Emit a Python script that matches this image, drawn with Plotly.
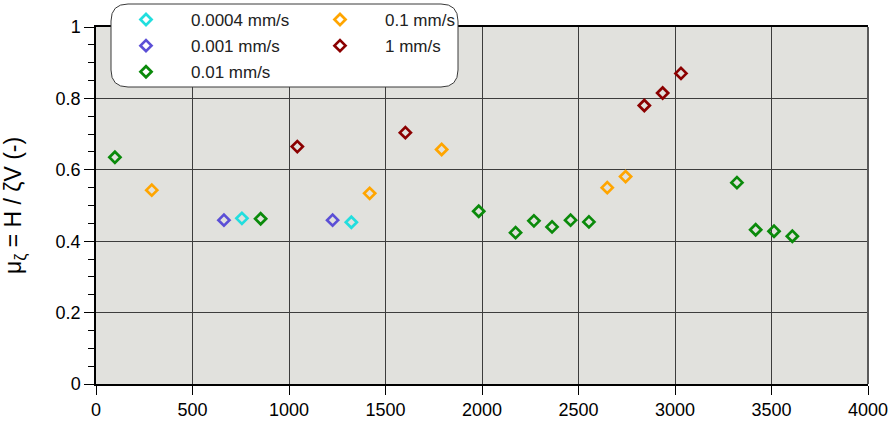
import plotly.graph_objects as go

# Data
names = ["0.0004 mm/s", "0.001 mm/s", "0.01 mm/s", "0.1 mm/s", "1 mm/s"]
colors = ["#22dede", "#5b4fd6", "#0a8a0a", "#ffa500", "#8b0000"]

x_00004 = [756, 1323]
y_00004 = [0.464, 0.453]

x_0001 = [663, 1226]
y_0001 = [0.459, 0.459]

x_001 = [98, 853, 1983, 2174, 2269, 2363, 2459, 2554, 3321, 3418, 3513, 3608]
y_001 = [0.635, 0.463, 0.484, 0.424, 0.457, 0.440, 0.459, 0.454, 0.564, 0.432, 0.428, 0.414]

x_01 = [289, 1418, 1791, 2649, 2744]
y_01 = [0.543, 0.534, 0.657, 0.550, 0.581]

x_1 = [1043, 1603, 2841, 2936, 3031]
y_1 = [0.665, 0.704, 0.780, 0.815, 0.870]

xs = [x_00004, x_0001, x_001, x_01, x_1]
ys = [y_00004, y_0001, y_001, y_01, y_1]

x_ticks = [0, 500, 1000, 1500, 2000, 2500, 3000, 3500, 4000]
y_ticks = [0, 0.2, 0.4, 0.6, 0.8, 1]

FONT = "Liberation Sans, Arial, sans-serif"

fig = go.Figure()
for i, (n, c, xx, yy) in enumerate(zip(names, colors, xs, ys)):
    fig.add_trace(go.Scatter(
        x=xx, y=yy, mode="markers", name=n,
        legend="legend" if i < 3 else "legend2",
        legendgroup=n,
        marker=dict(symbol="diamond-open", size=8.5, color=c,
                    line=dict(width=2.7, color=c)),
    ))

W, H = 890, 425
L, R, T, B = 96, 22, 27, 41
pw, ph = W - L - R, H - T - B


def px2paper(px, py):
    return (px - L) / pw, (H - B - py) / ph


# rounded legend box
x0, y0 = px2paper(111, 87)
x1, y1 = px2paper(458, 4)
rx, ry = 17 / pw, 17 / ph
path = (f"M {x0+rx},{y1} L {x1-rx},{y1} Q {x1},{y1} {x1},{y1-ry} "
        f"L {x1},{y0+ry} Q {x1},{y0} {x1-rx},{y0} L {x0+rx},{y0} "
        f"Q {x0},{y0} {x0},{y0+ry} L {x0},{y1-ry} Q {x0},{y1} {x0+rx},{y1} Z")

fig.add_shape(type="path", path=path, xref="paper", yref="paper",
              line=dict(color="#3a3a3a", width=1), fillcolor="white",
              layer="above")
# right frame edge
fig.add_shape(type="line", xref="paper", yref="paper", x0=1, x1=1, y0=0, y1=1,
              line=dict(color="#5a5a5a", width=2), layer="above")

lx1, ly = px2paper(101, 2)
lx2, _ = px2paper(295, 2)
legcommon = dict(yanchor="top", xanchor="left", bgcolor="rgba(0,0,0,0)",
                 borderwidth=0, font=dict(family=FONT, size=17, color="#222"),
                 itemwidth=80, tracegroupgap=1, traceorder="grouped")

ytitle = "μ<sub>ζ</sub> = H / ζV (-)"

fig.update_layout(
    width=W, height=H,
    margin=dict(l=L, r=R, t=T, b=B, autoexpand=False),
    paper_bgcolor="white",
    plot_bgcolor="#e1e1dd",
    font=dict(family=FONT, size=18, color="black"),
    showlegend=True,
    legend=dict(x=lx1, y=ly, **legcommon),
    legend2=dict(x=lx2, y=ly, **legcommon),
    xaxis=dict(range=[0, 4000], tickvals=x_ticks, ticktext=[str(v) for v in x_ticks],
               showgrid=True, gridcolor="#3c3c3c", gridwidth=1,
               showline=True, linecolor="black", linewidth=1.5, mirror=True,
               ticks="outside", ticklen=9, tickcolor="black", tickwidth=1.2,
               zeroline=False, tickfont=dict(size=18)),
    yaxis=dict(range=[0, 1], tickvals=y_ticks, ticktext=["0", "0.2", "0.4", "0.6", "0.8", "1"],
               showgrid=True, gridcolor="#3c3c3c", gridwidth=1,
               showline=True, linecolor="black", linewidth=1.5,
               ticks="outside", ticklen=10, tickcolor="black", tickwidth=1.2,
               zeroline=False, tickfont=dict(size=18),
               minor=dict(dtick=0.05, tick0=0, ticks="outside", ticklen=6,
                          tickcolor="black", tickwidth=1.2, showgrid=False),
               title=dict(text=ytitle, font=dict(size=23), standoff=30)),
)

fig.write_html("out.html", config={"displayModeBar": False},
               post_script="document.body.style.margin='0';document.body.style.padding='0';")
